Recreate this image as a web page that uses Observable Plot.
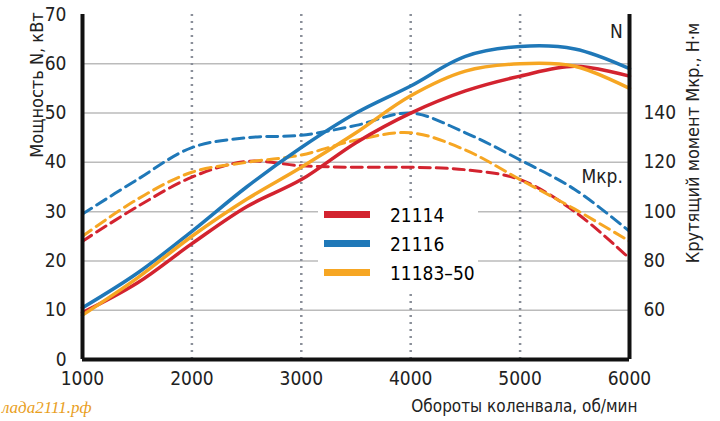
<!DOCTYPE html>
<html><head><meta charset="utf-8">
<script src="https://cdn.jsdelivr.net/npm/d3@7"></script>
<script src="https://cdn.jsdelivr.net/npm/@observablehq/plot@0.6"></script>
<style>
body{margin:0;background:#fff;font-family:"DejaVu Sans Condensed","Liberation Sans Narrow",sans-serif;}
#wrap{position:relative;width:720px;height:421px;}
#legend{position:absolute;left:318px;top:200px;width:160px;height:92px;background:#fff;font-size:19px;white-space:nowrap}
#legend div{display:flex;align-items:center;height:29px;padding-left:6px}
#legend span.sw{display:inline-block;width:46px;height:7px;margin-right:20px}
#wm{position:absolute;left:2px;top:398px;font:italic 17px "Liberation Serif",serif;color:#e9a01e}
.vl{position:absolute;white-space:nowrap;font-size:18px;transform:translate(-50%,-50%) rotate(-90deg);color:#222}
</style></head><body>
<div id="wrap"></div>
<script>
const rpm = [1000,1500,2000,2500,3000,3500,4000,4500,5000,5500,6000];
const series = ["21114","21116","11183–50"];
const colors = ["#d3232f","#1f78b8","#f6a623"];
// Power, kW
const power21114 = [9.5,15.5,23.5,31,36.5,44,50,54.5,57.5,59.5,57.5];
const power21116 = [10.5,17.5,26,35,43,50,55.5,61.5,63.5,63,59];
const power11183 = [9,16.5,25,32.5,39,46,53.5,58.5,60,59.5,55];
// Torque, N·m
const torque21114 = [88,102,114,120.4,118.6,118,118,117,113,100,81];
const torque21116 = [99,113,126,130,131,135,140,132,121,109,92];
const torque11183 = [90,105,116,120,123,129,132,125,113,101,88];
const leftTicks = [0,10,20,30,40,50,60,70];
const rightTicks = [60,80,100,120,140];
const tq = t => (t-40)/2; // torque -> power-axis units

const pw = [power21114,power21116,power11183];
const tqs = [torque21114,torque21116,torque11183];
const P=[],T=[];
series.forEach((s,i)=>rpm.forEach((x,j)=>{P.push({s,x,y:pw[i][j]});T.push({s,x,y:tq(tqs[i][j])});}));

const chart = Plot.plot({
  width:720,height:421,marginLeft:82,marginRight:91,marginTop:14,marginBottom:62,
  style:{fontFamily:"DejaVu Sans Condensed, sans-serif",fontSize:"19px",color:"#222",background:"#fff"},
  x:{domain:[1000,6000]},
  y:{domain:[0,70]},
  color:{domain:series,range:colors},
  marks:[
    Plot.ruleY(leftTicks.filter(d=>d>0&&d<70),{stroke:"#bbb",strokeWidth:1.5}),
    Plot.ruleX([2000,3000,4000,5000],{stroke:"#8a8f99",strokeWidth:2.5,strokeDasharray:"2,5"}),
    Plot.line(T,{x:"x",y:"y",stroke:"s",z:"s",strokeWidth:3,strokeDasharray:"11,6",curve:"catmull-rom"}),
    Plot.line(P,{x:"x",y:"y",stroke:"s",z:"s",strokeWidth:3.5,curve:"catmull-rom"}),
    Plot.axisX({ticks:[1000,2000,3000,4000,5000,6000],tickFormat:d=>String(d),tickSize:0,tickPadding:12,fontSize:19,label:null}),
    Plot.text(["Обороты коленвала, об/мин"],{frameAnchor:"bottom-right",dy:52,dx:8,textAnchor:"end",fontSize:17}),
    Plot.axisY({ticks:leftTicks,tickSize:0,tickPadding:16,fontSize:19,label:null}),
    Plot.axisY({anchor:"right",ticks:rightTicks.map(tq),tickFormat:d=>String(2*d+40),tickSize:0,tickPadding:14,fontSize:19,label:null}),
    Plot.ruleX([1000,6000],{stroke:"#111",strokeWidth:4}),
    Plot.ruleY([0],{stroke:"#111",strokeWidth:4}),
    Plot.text(["N"],{x:5880,y:66.5,fontSize:19}),
    Plot.text(["Mкр."],{x:5750,y:37,fontSize:19})
  ]
});
const wrap=document.getElementById("wrap");
wrap.appendChild(chart);
const lg=document.createElement("div");lg.id="legend";
series.forEach((s,i)=>{const r=document.createElement("div");r.innerHTML=`<span class="sw" style="background:${colors[i]}"></span>${s}`;lg.appendChild(r);});
wrap.appendChild(lg);
function vlabel(t,x,y){const d=document.createElement("div");d.className="vl";d.textContent=t;d.style.left=x+"px";d.style.top=y+"px";wrap.appendChild(d);}
vlabel("Мощность N, кВт",36,85);
vlabel("Крутящий момент Mкр., Н·м",692,143);
const wm=document.createElement("div");wm.id="wm";wm.textContent="лада2111.рф";wrap.appendChild(wm);
</script></body></html>
